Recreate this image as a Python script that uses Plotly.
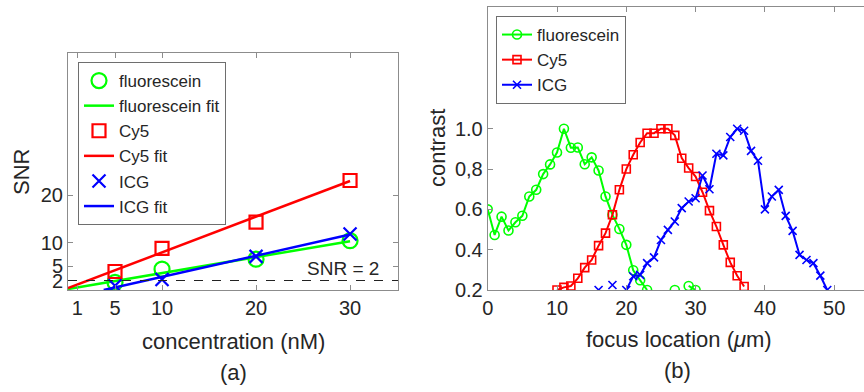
import plotly.graph_objects as go

# ---------------- Panel (a) data ----------------
conc = [5, 10, 20, 30]
snr_fluorescein = [1.6, 4.4, 6.5, 10.4]
snr_cy5 = [3.9, 8.8, 14.3, 23.1]
snr_icg = [0.9, 2.2, 7.1, 11.8]

fit_x_fluorescein = [0, 30]
fit_y_fluorescein = [0.2, 10.3]
fit_x_cy5 = [0, 30]
fit_y_cy5 = [0.4, 23.0]
fit_x_icg = [3.8, 30]
fit_y_icg = [0.0, 11.7]

snr_threshold = 2
conc_ticks = [1, 5, 10, 20, 30]
snr_ticks = [2, 5, 10, 20]

# ---------------- Panel (b) data ----------------
focus = list(range(0, 50))
contrast_fluorescein = [0.6, 0.473, 0.564, 0.495, 0.536, 0.568, 0.664, 0.697, 0.775, 0.823,
                        0.882, 1.0, 0.906, 0.907, 0.824, 0.858, 0.793, 0.664, 0.573, 0.503,
                        0.424, 0.298, 0.248, 0.2, None, None, None, 0.2, None, 0.22,
                        0.2, None, None, None, None, None, None, None, None, None,
                        None, None, None, None, None, None, None, None, None, None]
contrast_cy5 = [None] * 10 + [0.2, 0.213, 0.22, 0.258, 0.311, 0.349, 0.42, 0.482, 0.573, 0.697,
                              0.8, 0.871, 0.932, 0.978, 0.978, 1.0, 1.0, 0.967, 0.854, 0.805,
                              0.763, 0.685, 0.594, 0.515, 0.424, 0.337, 0.271, 0.217] + [None] * 12
contrast_icg = [None] * 16 + [0.2, None, 0.225, None,
                              0.2, 0.268, 0.275, 0.333, 0.362, 0.448, 0.498, 0.54, 0.606, 0.639,
                              0.655, 0.768, 0.7, 0.876, 0.868, 0.959, 1.0, 0.99, 0.89, 0.841,
                              0.6, 0.664, 0.697, 0.568, 0.493, 0.374, 0.349, 0.333, 0.271, 0.2]
contrast_tickvals = [0.2, 0.4, 0.6, 0.8, 1.0]
contrast_ticktext = ["0.2", "0.4", "0.6", "0,8", "1.0"]
focus_ticks = [0, 10, 20, 30, 40, 50]

GREEN = "#00ff00"
RED = "#ff0000"
BLUE = "#0000ff"
FONT = "Liberation Sans, Arial, sans-serif"
TXT = "#262626"
AXC = "#8c8c8c"

W, H = 864, 392

fig = go.Figure()

# Panel (a)
fig.add_trace(go.Scatter(x=conc, y=snr_fluorescein, mode="markers", name="fluorescein",
                         marker=dict(symbol="circle-open", size=15, color=GREEN, line=dict(width=2.2)),
                         xaxis="x", yaxis="y", legend="legend"))
fig.add_trace(go.Scatter(x=fit_x_fluorescein, y=fit_y_fluorescein, mode="lines", name="fluorescein fit",
                         line=dict(color=GREEN, width=2.5), xaxis="x", yaxis="y", legend="legend"))
fig.add_trace(go.Scatter(x=conc, y=snr_cy5, mode="markers", name="Cy5",
                         marker=dict(symbol="square-open", size=13, color=RED, line=dict(width=2.2)),
                         xaxis="x", yaxis="y", legend="legend"))
fig.add_trace(go.Scatter(x=fit_x_cy5, y=fit_y_cy5, mode="lines", name="Cy5 fit",
                         line=dict(color=RED, width=2.5), xaxis="x", yaxis="y", legend="legend"))
fig.add_trace(go.Scatter(x=conc, y=snr_icg, mode="markers", name="ICG",
                         marker=dict(symbol="x-thin-open", size=13, color=BLUE, line=dict(width=2.2, color=BLUE)),
                         xaxis="x", yaxis="y", legend="legend"))
fig.add_trace(go.Scatter(x=fit_x_icg, y=fit_y_icg, mode="lines", name="ICG fit",
                         line=dict(color=BLUE, width=2.5), xaxis="x", yaxis="y", legend="legend"))

# Panel (b)
fig.add_trace(go.Scatter(x=focus, y=contrast_fluorescein, mode="lines+markers", name="fluorescein",
                         line=dict(color=GREEN, width=2),
                         marker=dict(symbol="circle-open", size=9, color=GREEN, line=dict(width=1.6)),
                         xaxis="x2", yaxis="y2", legend="legend2", connectgaps=False))
fig.add_trace(go.Scatter(x=focus, y=contrast_cy5, mode="lines+markers", name="Cy5",
                         line=dict(color=RED, width=2),
                         marker=dict(symbol="square-open", size=8, color=RED, line=dict(width=1.6)),
                         xaxis="x2", yaxis="y2", legend="legend2", connectgaps=False))
fig.add_trace(go.Scatter(x=focus, y=contrast_icg, mode="lines+markers", name="ICG",
                         line=dict(color=BLUE, width=2),
                         marker=dict(symbol="x-thin-open", size=8, color=BLUE, line=dict(width=1.6, color=BLUE)),
                         xaxis="x2", yaxis="y2", legend="legend2", connectgaps=False))

axis_common = dict(showgrid=False, zeroline=False, showline=True, linecolor=AXC, linewidth=1,
                   ticks="inside", ticklen=5, tickcolor=AXC, automargin=False,
                   tickfont=dict(family=FONT, size=20, color=TXT))

fig.update_layout(
    width=W, height=H,
    margin=dict(l=0, r=0, t=0, b=0, autoexpand=False),
    paper_bgcolor="white", plot_bgcolor="white",
    font=dict(family=FONT, color=TXT),
    xaxis=dict(domain=[68 / W, 398 / W], range=[0, 35.1], tickvals=conc_ticks,
               mirror="allticks", anchor="y", **axis_common),
    yaxis=dict(domain=[(H - 290) / H, (H - 53) / H], range=[0, 50], tickvals=snr_ticks,
               mirror="allticks", anchor="x", **axis_common),
    xaxis2=dict(domain=[487.7 / W, 1.0], range=[0, 54.3], tickvals=focus_ticks,
                mirror="allticks", anchor="y2", **axis_common),
    yaxis2=dict(domain=[(H - 290) / H, (H - 7) / H], range=[0.2, 1.604],
                tickvals=contrast_tickvals, ticktext=contrast_ticktext,
                mirror=False, anchor="x2", **axis_common),
    legend=dict(x=78 / W, y=(H - 62) / H, xanchor="left", yanchor="top",
                bgcolor="white", bordercolor="#6e6e6e", borderwidth=1,
                font=dict(family=FONT, size=17, color=TXT), tracegroupgap=0),
    legend2=dict(x=496 / W, y=(H - 16) / H, xanchor="left", yanchor="top",
                 bgcolor="white", bordercolor="#6e6e6e", borderwidth=1,
                 font=dict(family=FONT, size=17, color=TXT), tracegroupgap=0),
    showlegend=True,
)

fig.add_shape(type="line", xref="x domain", yref="y", x0=0, x1=1, y0=snr_threshold, y1=snr_threshold,
              line=dict(color="#222222", width=1.2, dash="dash"))


def label(text, px, py, size=22, angle=0):
    return dict(text=text, x=px / W, y=(H - py) / H, xref="paper", yref="paper",
                xanchor="center", yanchor="middle", textangle=angle, showarrow=False,
                font=dict(family=FONT, size=size, color=TXT))


annotations = [
    dict(text="SNR = 2", x=29.3, y=snr_threshold, xref="x", yref="y", xanchor="center", yanchor="bottom",
         showarrow=False, font=dict(family=FONT, size=19, color=TXT)),
    label("SNR", 21, 172, angle=-90),
    label("concentration (nM)", 233, 341),
    label("(a)", 233, 372),
    label("contrast", 437, 148, angle=-90),
    label("focus location (<i>μ</i>m)", 679, 339),
    label("(b)", 677, 370),
]
fig.update_layout(annotations=annotations)

fig.write_html("out.html", config={"displayModeBar": False},
               post_script="document.body.style.margin='0';document.body.style.overflow='hidden';")
